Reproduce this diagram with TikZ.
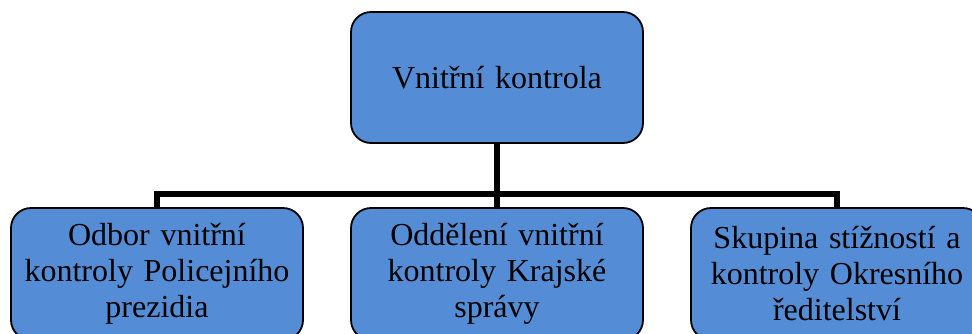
\documentclass[tikz,border=0pt]{standalone}
\usepackage{fontspec}
\setmainfont{Liberation Serif}
\definecolor{boxblue}{RGB}{84,141,213}
\begin{document}
\begin{tikzpicture}[x=1pt,y=-1pt,
  orgbox/.style={draw=black, line width=1.8pt, fill=boxblue, rounded corners=20pt,
    minimum width=292pt, text width=284pt, align=center, inner sep=0pt,
    font=\fontsize{32}{36}\selectfont},
  link/.style={line width=5.5pt}]
\useasboundingbox (0,0) rectangle (972,333);
\clip (0,0) rectangle (972,333);
\node[orgbox, minimum height=131pt] (top) at (497,77.5) {Vnitřní kontrola};
\node[orgbox, minimum height=132pt] (a) at (157,274) {Odbor vnitřní\\kontroly Policejního\\prezidia};
\node[orgbox, minimum height=132pt] (b) at (497,274) {Oddělení vnitřní\\kontroly Krajské\\správy};
\node[orgbox, minimum height=132pt] (c) at (837,274) {Skupina stížností a\\kontroly Okresního\\ředitelství};
\coordinate (j) at (497,194);
\draw[link] (top.south) -- (j);
\draw[link] (j) -- (b.north);
\draw[link] (j) -| (a.north);
\draw[link] (j) -| (c.north);
\end{tikzpicture}
\end{document}
